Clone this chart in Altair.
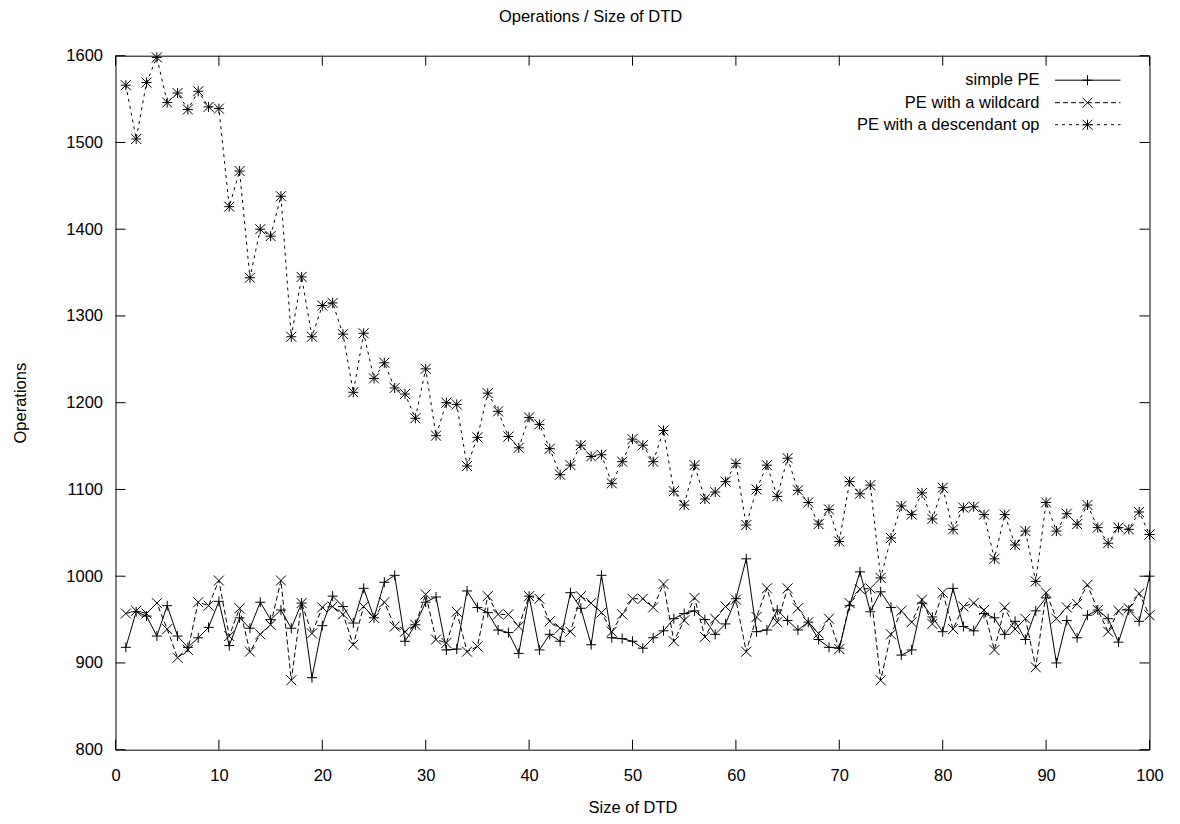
import altair as alt
import pandas as pd

sizes = list(range(1, 101))

simple_pe = [918, 959, 954, 931, 966, 931, 918, 929, 941, 971,
             920, 952, 940, 970, 950, 961, 940, 969, 883, 943,
             977, 965, 946, 986, 952, 993, 1001, 925, 944, 970,
             976, 915, 916, 983, 964, 958, 938, 935, 911, 977,
             915, 933, 925, 981, 963, 921, 1001, 929, 928, 925,
             917, 929, 937, 951, 957, 960, 950, 933, 945, 974,
             1020, 936, 938, 961, 949, 938, 947, 927, 918, 917,
             966, 1005, 959, 982, 964, 909, 915, 969, 953, 936,
             986, 942, 937, 957, 952, 933, 948, 927, 960, 975,
             900, 949, 929, 955, 961, 951, 924, 961, 948, 1000]

wildcard_pe = [957, 960, 957, 969, 939, 906, 915, 970, 966, 995,
               931, 963, 913, 933, 944, 995, 880, 969, 934, 964,
               965, 956, 921, 965, 952, 970, 942, 936, 944, 979,
               927, 923, 959, 913, 919, 977, 956, 956, 942, 977,
               974, 948, 940, 936, 977, 969, 958, 936, 956, 974,
               974, 964, 991, 925, 949, 975, 930, 951, 965, 973,
               913, 953, 986, 947, 986, 963, 947, 934, 951, 916,
               969, 985, 986, 880, 933, 960, 947, 973, 945, 981,
               939, 965, 969, 961, 915, 964, 939, 951, 895, 981,
               951, 964, 968, 990, 961, 936, 960, 963, 980, 955]

descendant_pe = [1566, 1504, 1569, 1598, 1546, 1557, 1538, 1559, 1541, 1539,
                 1426, 1467, 1344, 1400, 1392, 1438, 1276, 1345, 1276, 1312,
                 1315, 1279, 1212, 1280, 1228, 1246, 1217, 1210, 1182, 1239,
                 1162, 1200, 1198, 1127, 1160, 1211, 1190, 1161, 1148, 1183,
                 1175, 1147, 1117, 1128, 1151, 1138, 1140, 1107, 1132, 1158,
                 1151, 1132, 1168, 1098, 1082, 1128, 1089, 1097, 1109, 1130,
                 1059, 1100, 1128, 1092, 1136, 1099, 1085, 1060, 1077, 1040,
                 1109, 1095, 1105, 998, 1044, 1081, 1071, 1096, 1066, 1102,
                 1054, 1079, 1080, 1071, 1020, 1071, 1036, 1052, 994, 1085,
                 1052, 1072, 1060, 1082, 1056, 1038, 1056, 1054, 1074, 1048]

series_names = ["simple PE", "PE with a wildcard", "PE with a descendant op"]
x_ticks = list(range(0, 101, 10))
y_ticks = list(range(800, 1601, 100))

W, H = 1034, 694
FONT = "Liberation Sans"
FS = 16.5

PLUS = "M-1,0L1,0M0,-1L0,1"
CROSS = "M-1,-1L1,1M-1,1L1,-1"
STAR = PLUS + CROSS
shapes = [PLUS, CROSS, STAR]
dashes = [None, [5, 3], [3, 4]]
values = [simple_pe, wildcard_pe, descendant_pe]

xs = alt.Scale(domain=[0, 100], nice=False, zero=False)
ys = alt.Scale(domain=[800, 1600], nice=False, zero=False)

xaxis = alt.Axis(values=x_ticks, title="Size of DTD", labelPadding=18,
                 labelFlush=False, labelOverlap=False, format="d",
                 titleY=58, titleBaseline="middle")
yaxis = alt.Axis(values=y_ticks, title="Operations", labelPadding=13,
                 labelFlush=False, labelOverlap=False, format="d",
                 titleX=-95.5, titleY=H / 2, titleBaseline="middle",
                 titleAlign="center")

layers = []

# inward ticks on all four sides
xt = pd.DataFrame({"t": x_ticks})
yt = pd.DataFrame({"v": y_ticks})
layers.append(alt.Chart(xt).mark_rule(color="black", strokeWidth=1).encode(
    x=alt.X("t:Q", scale=xs, axis=xaxis), y=alt.value(H), y2=alt.value(H - 10)))
layers.append(alt.Chart(xt).mark_rule(color="black", strokeWidth=1).encode(
    x=alt.X("t:Q", scale=xs, axis=xaxis), y=alt.value(0), y2=alt.value(10)))
layers.append(alt.Chart(yt).mark_rule(color="black", strokeWidth=1).encode(
    y=alt.Y("v:Q", scale=ys, axis=yaxis), x=alt.value(0), x2=alt.value(10)))
layers.append(alt.Chart(yt).mark_rule(color="black", strokeWidth=1).encode(
    y=alt.Y("v:Q", scale=ys, axis=yaxis), x=alt.value(W), x2=alt.value(W - 10)))

legend_y = [24.5, 47.0, 69.0]
one = pd.DataFrame({"a": [0]})

for name, vals, shp, dash, ly in zip(series_names, values, shapes, dashes, legend_y):
    d = pd.DataFrame({"size": sizes, "ops": vals, "series": name})
    line_kw = dict(color="black", strokeWidth=1)
    if dash is not None:
        line_kw["strokeDash"] = dash
    enc = dict(x=alt.X("size:Q", scale=xs, axis=xaxis),
               y=alt.Y("ops:Q", scale=ys, axis=yaxis))
    layers.append(alt.Chart(d).mark_line(**line_kw).encode(**enc))
    layers.append(alt.Chart(d).mark_point(shape=shp, size=100, filled=False,
                                          color="black", strokeWidth=1,
                                          opacity=1).encode(**enc))
    # legend entry
    layers.append(alt.Chart(one).mark_text(text=name, font=FONT, fontSize=FS,
                                           align="right", baseline="middle",
                                           color="black").encode(
        x=alt.value(924), y=alt.value(ly)))
    layers.append(alt.Chart(one).mark_rule(**line_kw).encode(
        x=alt.value(939.5), x2=alt.value(1005), y=alt.value(ly)))
    layers.append(alt.Chart(one).mark_point(shape=shp, size=100, filled=False,
                                            color="black", strokeWidth=1,
                                            opacity=1).encode(
        x=alt.value(972), y=alt.value(ly)))

chart = alt.layer(*layers).properties(
    width=W, height=H,
    autosize=alt.AutoSizeParams(type="none"),
    padding={"left": 107.5, "top": 47.7, "right": 20, "bottom": 66},
    title=alt.TitleParams(text="Operations / Size of DTD", font=FONT,
                          fontSize=FS, fontWeight="normal", color="black",
                          anchor="middle", frame="group", dx=-42, offset=22),
).configure_view(stroke="black", strokeWidth=1).configure_axis(
    domain=False, ticks=False, grid=False,
    labelFont=FONT, labelFontSize=FS, labelColor="black",
    titleFont=FONT, titleFontSize=FS, titleFontWeight="normal",
    titleColor="black")

chart.save("out.html", embed_options={"renderer": "svg", "actions": False})
